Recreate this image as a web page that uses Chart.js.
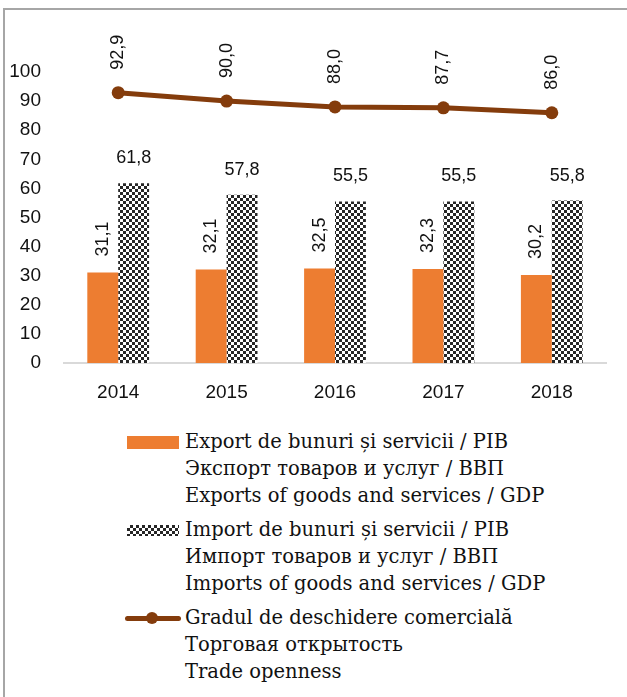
<!DOCTYPE html>
<html>
<head>
<meta charset="utf-8">
<script src="https://cdn.jsdelivr.net/npm/chart.js@4"></script>
<style>
  html, body { margin: 0; padding: 0; background: #fff; }
  body { width: 627px; height: 697px; position: relative; overflow: hidden; }
  #frame { position: absolute; left: 3px; top: 8px; width: 700px; height: 700px;
           border-left: 2px solid #a6a6a6; border-top: 2px solid #a6a6a6; }
  #chartBox { position: absolute; left: 0; top: 0; width: 627px; height: 410px; }
  .entry { position: absolute; left: 0; width: 627px; }
  .swatch { position: absolute; left: 127px; width: 52px; }
  .text { position: absolute; left: 185px; font-family: "DejaVu Serif", serif;
          font-size: 19.5px; line-height: 27px; color: #111; white-space: nowrap; }
</style>
</head>
<body>
<div id="frame"></div>
<div id="chartBox"><canvas id="tradeChart" width="627" height="410"></canvas></div>

<div class="entry" style="top:428px">
  <div class="swatch" style="top:8px;height:13px;background:#ED7D31"></div>
  <div class="text">Export de bunuri și servicii / PIB<br>Экспорт товаров и услуг / ВВП<br>Exports of goods and services / GDP</div>
</div>
<div class="entry" style="top:516px">
  <div class="swatch" style="top:9px;height:11px;background:repeating-conic-gradient(#262626 0 25%, #fff 0 50%) 0 0/6px 6px"></div>
  <div class="text">Import de bunuri și servicii / PIB<br>Импорт товаров и услуг / ВВП<br>Imports of goods and services / GDP</div>
</div>
<div class="entry" style="top:604px">
  <div class="swatch" style="left:125px;width:56px;top:12px;height:5px;border-radius:3px;background:#843C0C"></div>
  <div class="swatch" style="left:146px;width:12px;top:8px;height:12px;border-radius:6px;background:#843C0C"></div>
  <div class="text">Gradul de deschidere comercială<br>Торговая открытость<br>Trade openness</div>
</div>

<script>
const years = ["2014", "2015", "2016", "2017", "2018"];
const exportShare = [31.1, 32.1, 32.5, 32.3, 30.2];
const importShare = [61.8, 57.8, 55.5, 55.5, 55.8];
const tradeOpenness = [92.9, 90.0, 88.0, 87.7, 86.0];
const yTicks = [0, 10, 20, 30, 40, 50, 60, 70, 80, 90, 100];

const ORANGE = "#ED7D31";
const BROWN = "#843C0C";
const SANS = "'Liberation Sans', Arial, sans-serif";
const LABEL_FONT = "18px " + SANS;

function checkerPattern() {
  const c = document.createElement("canvas");
  c.width = 6; c.height = 6;
  const g = c.getContext("2d");
  g.fillStyle = "#fff";
  g.fillRect(0, 0, 6, 6);
  g.fillStyle = "#262626";
  g.fillRect(0, 0, 3, 3);
  g.fillRect(3, 3, 3, 3);
  return g.createPattern(c, "repeat");
}

function fmt(v) {
  return v.toFixed(1).replace(".", ",");
}

// value labels, placed like the Excel original
const valueLabels = {
  id: "valueLabels",
  afterDatasetsDraw(chart) {
    const ctx = chart.ctx;
    ctx.save();
    ctx.font = LABEL_FONT;
    ctx.fillStyle = "#111";
    chart.data.datasets.forEach((ds, i) => {
      const meta = chart.getDatasetMeta(i);
      meta.data.forEach((el, j) => {
        const txt = fmt(ds.data[j]);
        if (ds.labelStyle === "horizontal") {
          ctx.textAlign = "center";
          ctx.textBaseline = "middle";
          ctx.fillText(txt, el.x, el.y - 25);
        } else {
          const gap = ds.labelStyle === "lineVertical" ? 23 : 16;
          ctx.save();
          ctx.translate(el.x, el.y - gap);
          ctx.rotate(-Math.PI / 2);
          ctx.textAlign = "left";
          ctx.textBaseline = "middle";
          ctx.fillText(txt, 0, 0);
          ctx.restore();
        }
      });
    });
    ctx.restore();
  }
};

const ctx = document.getElementById("tradeChart");

new Chart(ctx, {
  data: {
    labels: years,
    datasets: [
      {
        type: "line",
        label: "Gradul de deschidere comercială",
        data: tradeOpenness,
        borderColor: BROWN,
        backgroundColor: BROWN,
        borderWidth: 5,
        pointRadius: 6.5,
        pointBackgroundColor: BROWN,
        pointBorderWidth: 0,
        order: 0,
        clip: false,
        labelStyle: "lineVertical"
      },
      {
        type: "bar",
        label: "Export de bunuri și servicii / PIB",
        data: exportShare,
        backgroundColor: ORANGE,
        categoryPercentage: 0.57,
        barPercentage: 1,
        order: 1,
        labelStyle: "barVertical"
      },
      {
        type: "bar",
        label: "Import de bunuri și servicii / PIB",
        data: importShare,
        backgroundColor: checkerPattern(),
        categoryPercentage: 0.57,
        barPercentage: 1,
        order: 1,
        labelStyle: "horizontal"
      }
    ]
  },
  options: {
    responsive: false,
    animation: false,
    layout: { padding: { top: 72, right: 21, left: 0, bottom: 0 } },
    plugins: {
      legend: { display: false },
      tooltip: { enabled: false }
    },
    scales: {
      x: {
        grid: { display: true, color: "rgba(0,0,0,0)", drawTicks: false },
        border: { display: true, color: "#d9d9d9", width: 2 },
        ticks: { color: "#111", font: { family: SANS, size: 19 }, padding: 18 },
        afterFit(scale) { scale.height = 47; }
      },
      y: {
        min: 0,
        max: 100,
        grid: { display: false },
        border: { display: false },
        afterBuildTicks(scale) { scale.ticks = yTicks.map(v => ({ value: v })); },
        ticks: { color: "#111", font: { family: SANS, size: 19 }, padding: 15 },
        afterFit(scale) { scale.width = 64; }
      }
    }
  },
  plugins: [valueLabels]
});
</script>
</body>
</html>
